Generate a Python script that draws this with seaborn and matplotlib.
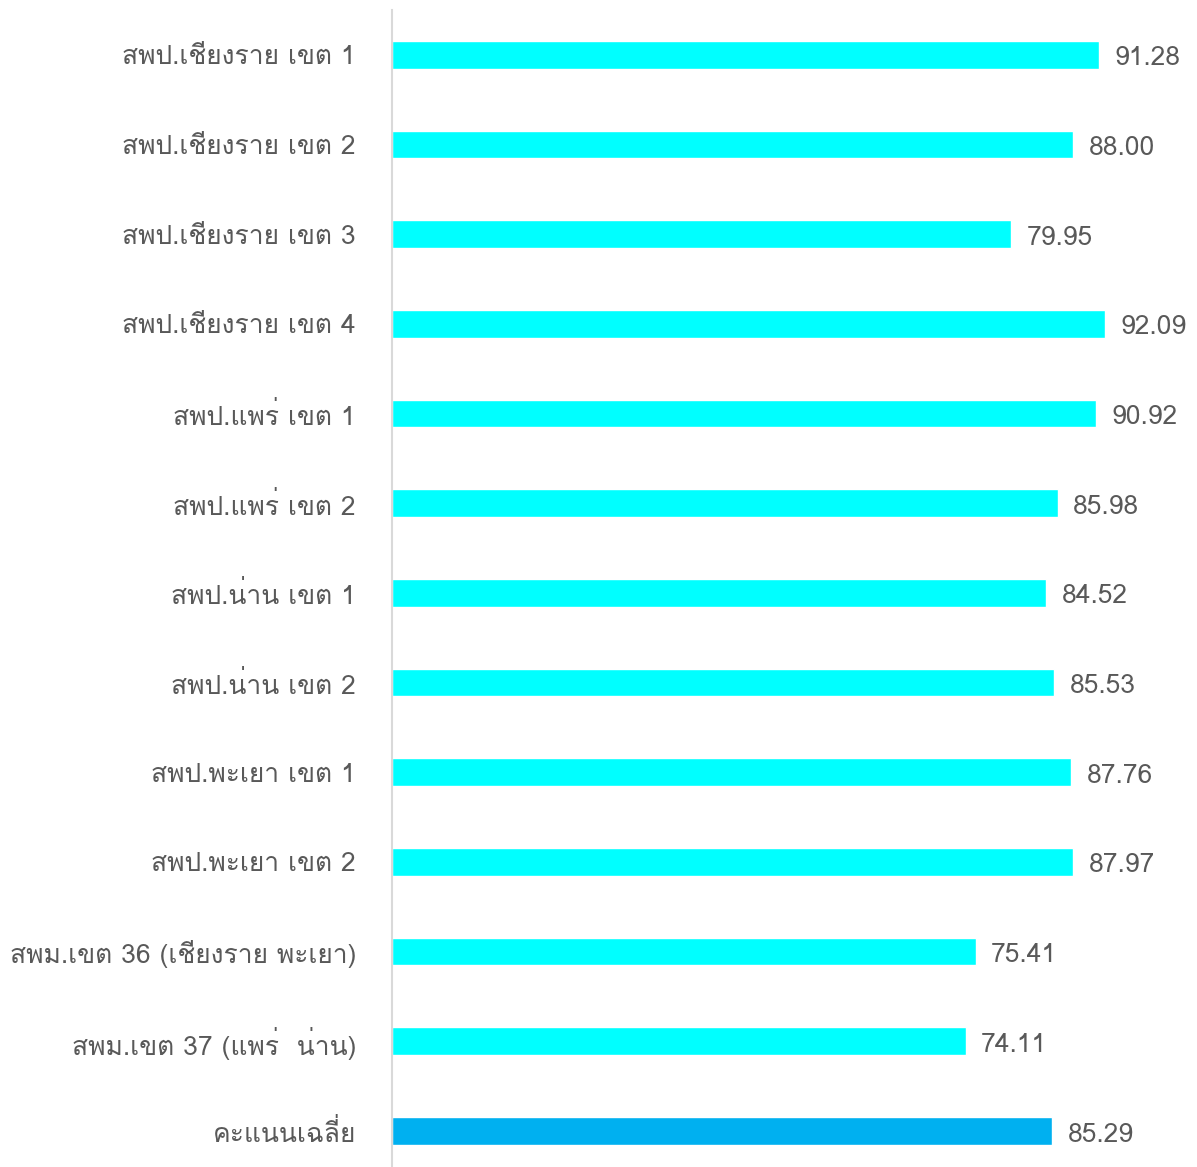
import matplotlib
matplotlib.use("Agg")
import matplotlib.pyplot as plt
import pandas as pd
import seaborn as sns
from matplotlib import font_manager
from matplotlib.ft2font import FT2Font

categories = [
    "สพป.เชียงราย เขต 1",
    "สพป.เชียงราย เขต 2",
    "สพป.เชียงราย เขต 3",
    "สพป.เชียงราย เขต 4",
    "สพป.แพร่ เขต 1",
    "สพป.แพร่ เขต 2",
    "สพป.น่าน เขต 1",
    "สพป.น่าน เขต 2",
    "สพป.พะเยา เขต 1",
    "สพป.พะเยา เขต 2",
    "สพม.เขต 36 (เชียงราย พะเยา)",
    "สพม.เขต 37 (แพร่  น่าน)",
    "คะแนนเฉลี่ย",
]
scores = [91.28, 88.00, 79.95, 92.09, 90.92, 85.98, 84.52, 85.53, 87.76, 87.97, 75.41, 74.11, 85.29]
bar_colors = ["#00FFFF"] * 12 + ["#00B0F0"]


def thai_families():
    # look for any installed font that has Thai glyphs
    found = []
    for entry in font_manager.fontManager.ttflist:
        try:
            cmap = FT2Font(entry.fname).get_charmap()
        except Exception:
            continue
        if 0x0E2A in cmap and entry.name not in found:
            found.append(entry.name)
    return found


sns.set_style("white")
plt.rcParams["font.family"] = thai_families() + ["DejaVu Sans"]

df = pd.DataFrame({"category": categories, "score": scores})

fig = plt.figure(figsize=(11.97, 11.67), dpi=100)
ax = fig.add_axes([0.3275, -0.0075, 0.6725, 0.9989])
sns.barplot(
    data=df, x="score", y="category", hue="category", palette=bar_colors,
    orient="h", width=0.31, legend=False, ax=ax, saturation=1,
)
ax.set_xlim(0, 104)
ax.set_ylim(12.5, -0.5)
ax.set_xlabel("")
ax.set_ylabel("")
ax.set_xticks([])
for side in ["top", "right", "bottom"]:
    ax.spines[side].set_visible(False)
ax.spines["left"].set_color("#D9D9D9")
ax.spines["left"].set_linewidth(1.5)
ax.tick_params(axis="y", length=0, pad=26, labelsize=19, labelcolor="#595959")

for i, v in enumerate(scores):
    ax.text(v + 2.0, i + 0.04, f"{v:.2f}", va="center", ha="left", fontsize=19, color="#595959")

fig.savefig("out.png", dpi=100)
